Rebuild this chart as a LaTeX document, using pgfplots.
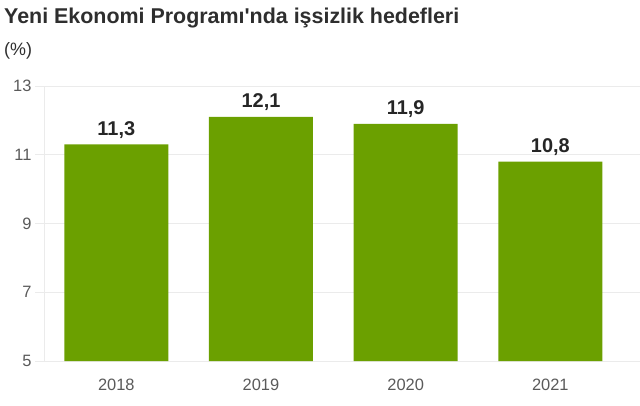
\documentclass[border=0pt]{standalone}
\usepackage{pgfplots}
\pgfplotsset{compat=1.18}
\usepackage{fontspec}
\setmainfont{Liberation Sans}[Ligatures=TeXOff]
\definecolor{bargreen}{HTML}{6BA000}
\definecolor{gridc}{HTML}{EBEBEB}
\definecolor{tickc}{HTML}{5A5A5A}
\definecolor{titlec}{HTML}{2E2E2E}

\begin{document}
\begin{tikzpicture}[x=1bp,y=1bp]
\path[use as bounding box] (0,0) rectangle (640,405);
\begin{axis}[
  at={(44bp,44bp)}, anchor=south west,
  scale only axis,
  width=596bp, height=275bp,
  ymin=5, ymax=13,
  ytick={5,7,9,11,13},
  xmin=-0.5, xmax=3.62,
  xtick=data,
  xticklabels={2018,2019,2020,2021},
  ymajorgrids,
  grid style={gridc, line width=0.8pt},
  axis x line*=bottom,
  axis y line*=left,
  axis line style={gridc, line width=0.8pt},
  x axis line style={draw=none},
  major tick length=9bp,
  ytick style={gridc, line width=0.8pt},
  xtick style={draw=none},
  tick align=outside,
  ticklabel style={font=\fontsize{16.5}{19}\selectfont, text=tickc},
  xticklabel style={yshift=-5bp},
  /pgf/number format/assume math mode=true,
  ybar, bar width=104bp,
  bar shift=0pt,
  nodes near coords,
  nodes near coords style={font=\bfseries\fontsize{20}{23}\selectfont, text=black!85, inner sep=0pt, yshift=6bp,
    /pgf/number format/.cd, use comma, fixed, fixed zerofill, precision=1, assume math mode=true},
]
\addplot[fill=bargreen, draw=none] coordinates {
  (0,11.3) (1,12.1) (2,11.9) (3,10.8)
};
\end{axis}
\node[anchor=base west, text=titlec, inner sep=0pt, font=\bfseries\fontsize{21.5}{25}\selectfont] at (4,382) {Yeni Ekonomi Programı'nda işsizlik hedefleri};
\node[anchor=base west, text=titlec, inner sep=0pt, font=\fontsize{18}{21}\selectfont] at (4,350) {(\%)};
\end{tikzpicture}
\end{document}
